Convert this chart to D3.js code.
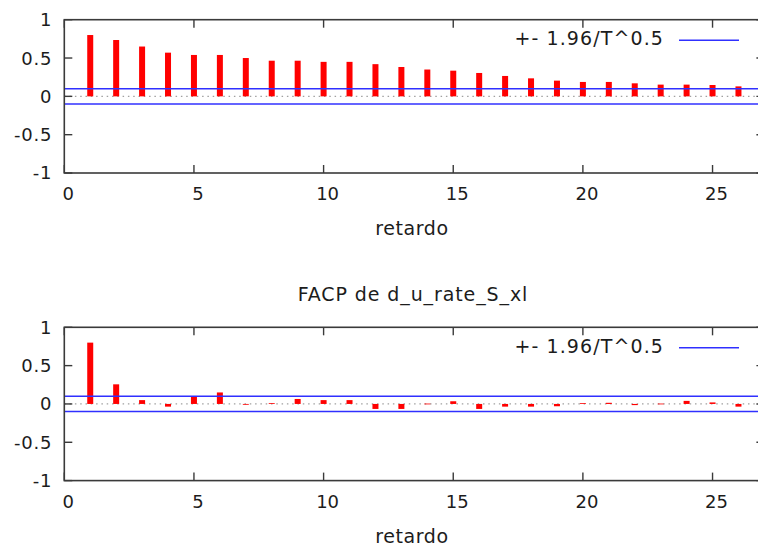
<!DOCTYPE html>
<html>
<head>
<meta charset="utf-8">
<script src="https://cdn.jsdelivr.net/npm/d3@7"></script>
<style>
  body { margin: 0; background: #fff; }
  svg { display: block; font-family: "DejaVu Sans", Verdana, sans-serif; }
</style>
</head>
<body>
<div id="chart"></div>
<script>
// datos
const lags = d3.range(1, 27);
const acfValues = [0.80, 0.735, 0.65, 0.57, 0.54, 0.54, 0.50, 0.465, 0.465, 0.45,
  0.45, 0.42, 0.383, 0.35, 0.335, 0.305, 0.266, 0.235, 0.205, 0.188,
  0.188, 0.17, 0.153, 0.153, 0.148, 0.13];
const pacfValues = [0.80, 0.256, 0.05, -0.035, 0.095, 0.15, -0.005, 0.01, 0.065, 0.05,
  0.05, -0.065, -0.065, 0.005, 0.035, -0.065, -0.035, -0.035, -0.03, 0.01,
  0.015, -0.015, 0.005, 0.04, 0.02, -0.035];
const band = 0.1; // 1.96/T^0.5
const xTicks = [0, 5, 10, 15, 20, 25];
const yTicks = [-1, -0.5, 0, 0.5, 1];
const legendLabel = "+- 1.96/T^0.5";
const pacfTitle = "FACP de d_u_rate_S_xl";
const xLabel = "retardo";

const width = 758;
const height = 549;
const left = 64.3;
const right = 764.4;
const panelHeight = 153.3;
const panelTops = [19.7, 327.3];
const textColor = "#1c1c1c";

const svg = d3.select("#chart")
  .append("svg")
  .attr("width", width)
  .attr("height", height);

const x = d3.scaleLinear().domain([0, 27]).range([left, right]);

function drawPanel(top, values, title) {
  const bottom = top + panelHeight;
  const y = d3.scaleLinear().domain([-1, 1]).range([bottom, top]);
  const g = svg.append("g");

  // línea de cero punteada
  g.append("line")
    .attr("x1", left).attr("x2", right)
    .attr("y1", y(0)).attr("y2", y(0))
    .attr("stroke", "#a0a0a0")
    .attr("stroke-width", 1.2)
    .attr("stroke-dasharray", "1.5 3.8");

  // barras
  g.selectAll("rect.bar")
    .data(lags)
    .join("rect")
    .attr("class", "bar")
    .attr("x", d => x(d) - 3)
    .attr("width", 6)
    .attr("y", (d, i) => y(Math.max(values[i], 0)))
    .attr("height", (d, i) => Math.max(Math.abs(y(values[i]) - y(0)), 0.8))
    .attr("fill", "#ff0000");

  // bandas de confianza
  g.selectAll("line.band")
    .data([band, -band])
    .join("line")
    .attr("class", "band")
    .attr("x1", left).attr("x2", right)
    .attr("y1", d => y(d)).attr("y2", d => y(d))
    .attr("stroke", "#3030ff")
    .attr("stroke-width", 1.5);

  // marco
  g.append("rect")
    .attr("x", left).attr("y", top)
    .attr("width", right - left).attr("height", panelHeight)
    .attr("fill", "none")
    .attr("stroke", "#3a3a3a")
    .attr("stroke-width", 1.6);

  // ticks hacia dentro, con espejo
  const tickLen = 8;
  g.selectAll("line.xt")
    .data(xTicks.flatMap(t => [[t, bottom, -tickLen], [t, top, tickLen]]))
    .join("line")
    .attr("class", "xt")
    .attr("x1", d => x(d[0])).attr("x2", d => x(d[0]))
    .attr("y1", d => d[1]).attr("y2", d => d[1] + d[2])
    .attr("stroke", "#3a3a3a")
    .attr("stroke-width", 1.4);

  g.selectAll("line.yt")
    .data(yTicks.flatMap(t => [[t, left, tickLen], [t, right, -tickLen]]))
    .join("line")
    .attr("class", "yt")
    .attr("y1", d => y(d[0])).attr("y2", d => y(d[0]))
    .attr("x1", d => d[1]).attr("x2", d => d[1] + d[2])
    .attr("stroke", "#3a3a3a")
    .attr("stroke-width", 1.4);

  // etiquetas
  g.selectAll("text.xl")
    .data(xTicks)
    .join("text")
    .attr("class", "xl")
    .attr("x", d => x(d) + 4)
    .attr("y", bottom + 27)
    .attr("text-anchor", "middle")
    .attr("fill", textColor)
    .style("font-size", "18px")
    .text(d => d);

  g.selectAll("text.yl")
    .data(yTicks)
    .join("text")
    .attr("class", "yl")
    .attr("x", left - 12)
    .attr("y", d => y(d))
    .attr("dy", "0.36em")
    .attr("text-anchor", "end")
    .attr("fill", textColor)
    .style("font-size", "18px")
    .style("letter-spacing", "0.8px")
    .text(d => d);

  g.append("text")
    .attr("x", 412)
    .attr("y", bottom + 62)
    .attr("text-anchor", "middle")
    .attr("fill", textColor)
    .style("font-size", "19px")
    .style("letter-spacing", "0.6px")
    .text(xLabel);

  if (title) {
    g.append("text")
      .attr("x", 413)
      .attr("y", top - 26.6)
      .attr("text-anchor", "middle")
      .attr("fill", textColor)
      .style("font-size", "19px")
      .style("letter-spacing", "0.9px")
      .text(title);
  }

  // leyenda
  g.append("text")
    .attr("x", 664)
    .attr("y", top + 25.3)
    .attr("text-anchor", "end")
    .attr("fill", textColor)
    .style("font-size", "19px")
    .style("letter-spacing", "1.1px")
    .text(legendLabel);

  g.append("line")
    .attr("x1", 679).attr("x2", 739)
    .attr("y1", top + 20.5).attr("y2", top + 20.5)
    .attr("stroke", "#3030ff")
    .attr("stroke-width", 1.5);
}

drawPanel(panelTops[0], acfValues, null);
drawPanel(panelTops[1], pacfValues, pacfTitle);
</script>
</body>
</html>
